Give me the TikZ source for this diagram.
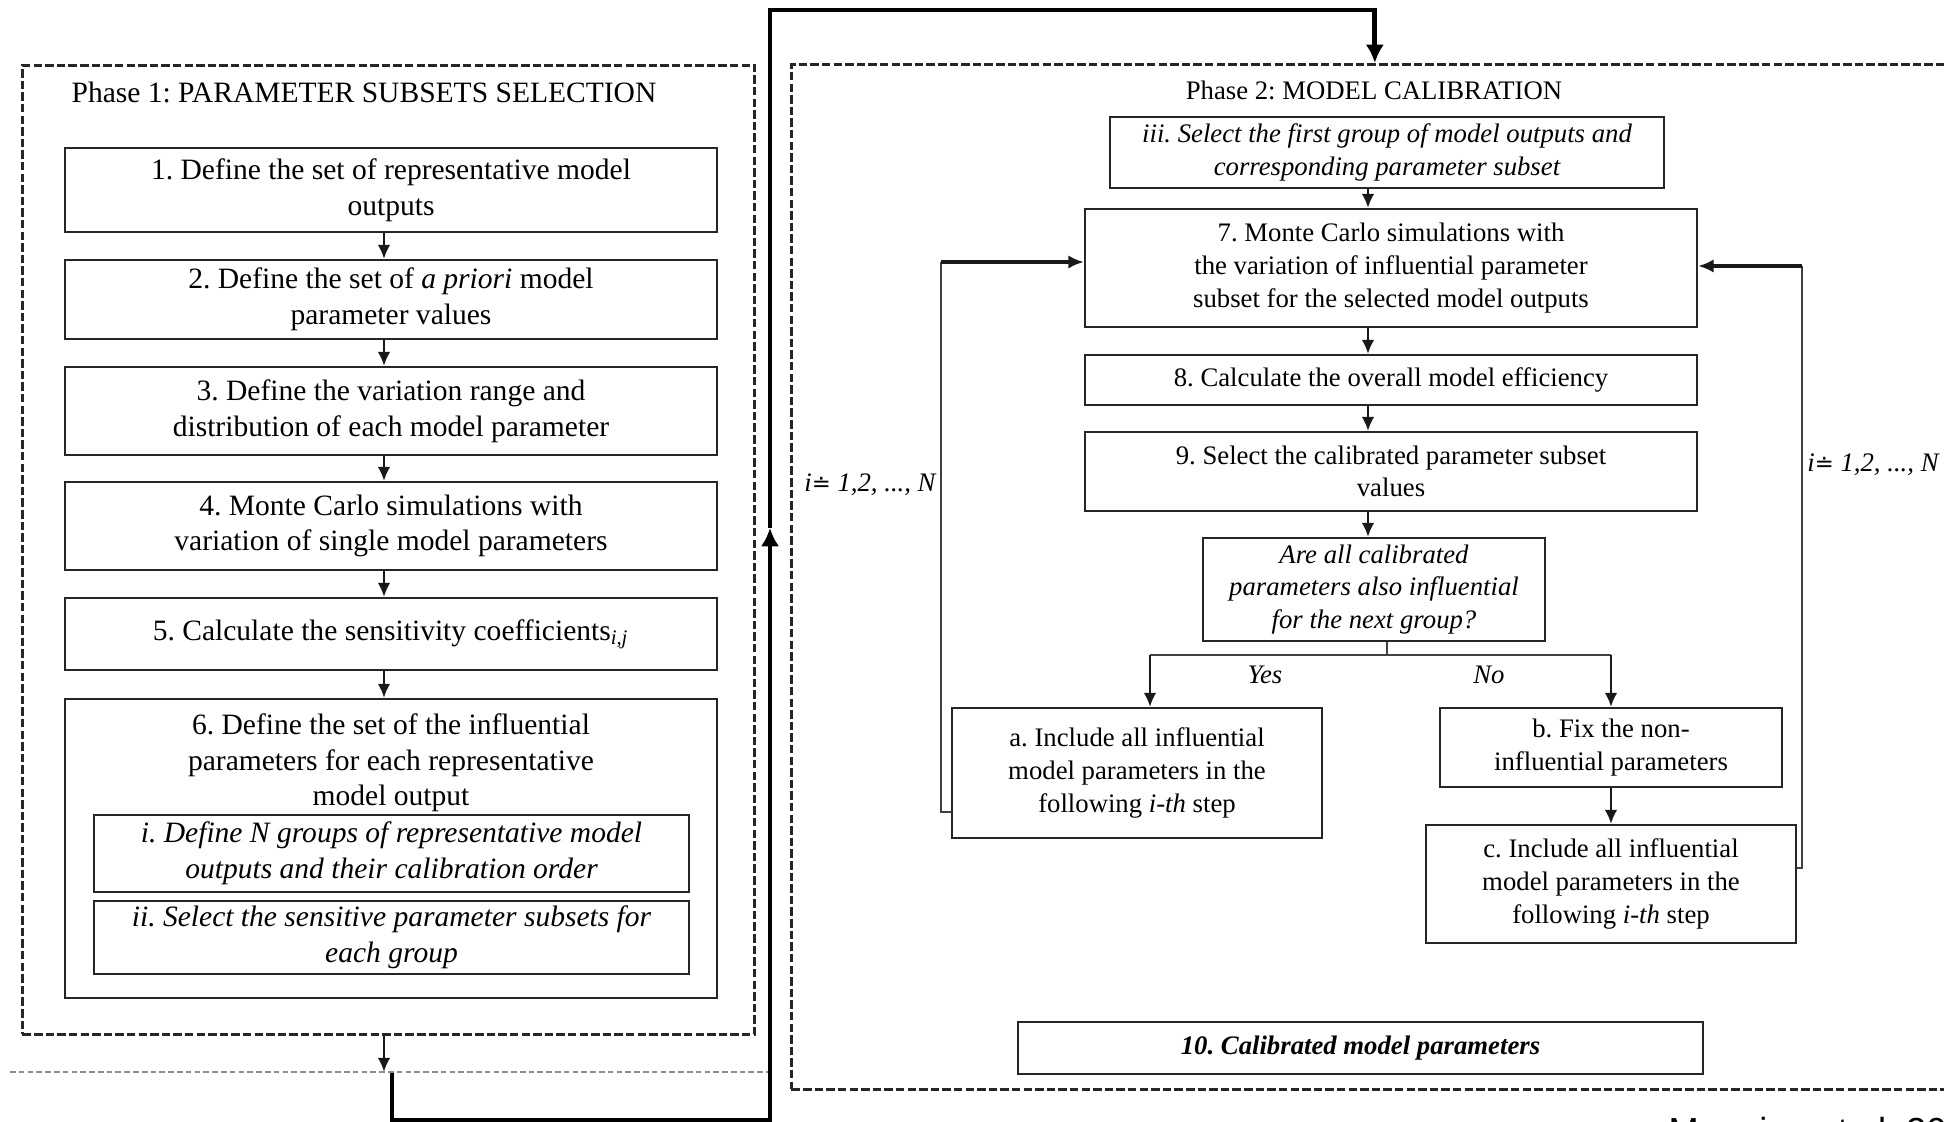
\documentclass[tikz,border=0pt]{standalone}
\usepackage{fontspec}
\setmainfont{Liberation Serif}
\newfontfamily\citefont{Liberation Sans}
\newfontfamily\symbolfont[Scale=0.85]{DejaVu Sans}
\usetikzlibrary{arrows.meta,calc}
\frenchspacing
% equals sign with a dot above it
\newcommand\dotequals{{\symbolfont ≐}}

\begin{document}
\begin{tikzpicture}[x=0.01cm,y=-0.01cm,
  box/.style={draw=black!85,line width=0.55pt,inner sep=0pt,align=center},
  onefont/.style={font=\fontsize{8.4}{10.1}\selectfont},
  oneit/.style={font=\fontsize{8.4}{10.1}\selectfont\itshape},
  twofont/.style={font=\fontsize{7.6}{9.3}\selectfont},
  twoit/.style={font=\fontsize{7.6}{9.3}\selectfont\itshape},
  phasebox/.style={draw=black!85,line width=0.85pt,dash pattern=on 2.4pt off 0.9pt,inner sep=0pt},
  separator/.style={draw=black!45,line width=0.4pt,dash pattern=on 1.6pt off 0.9pt},
  stepflow/.style={-{Latex[length=4pt,width=3.6pt]},line width=0.8pt,black!90},
  thinrule/.style={line width=0.45pt,black!75},
  loopflow/.style={-{Latex[length=4.4pt,width=3.8pt]},line width=0.95pt,black!90},
  mainflow/.style={-{Latex[length=5.2pt,width=5.2pt]},line width=1.35pt,black},
]
\useasboundingbox (0,0) rectangle (1944,1122);
\clip (0,0) rectangle (1944,1122);
\fill[white] (0,0) rectangle (1944,1122);

% ---------- Phase 1 ----------
\node[phasebox,anchor=north west,minimum width=7.32cm,minimum height=9.68cm] (p1) at (21,64) {};
\node[onefont] (t1) at (364,92) {Phase 1: PARAMETER SUBSETS SELECTION};

\node[box,onefont,minimum width=6.52cm,minimum height=0.84cm] (s1) at (391,190)
  {1. Define the set of representative model\\outputs};
\node[box,onefont,minimum width=6.52cm,minimum height=0.79cm] (s2) at (391,299.5)
  {2. Define the set of \textit{a priori} model\\parameter values};
\node[box,onefont,minimum width=6.52cm,minimum height=0.88cm] (s3) at (391,411)
  {3. Define the variation range and\\distribution of each model parameter};
\node[box,onefont,minimum width=6.52cm,minimum height=0.88cm] (s4) at (391,526)
  {4. Monte Carlo simulations with\\variation of single model parameters};
\node[box,onefont,minimum width=6.52cm,minimum height=0.72cm] (s5) at (391,634)
  {5. Calculate the sensitivity coefficients\textsubscript{\itshape i,j}};
\node[box,minimum width=6.52cm,minimum height=2.99cm] (s6) at (391,848.5) {};
\node[onefont,align=center,inner sep=0pt] (s6t) at (391,763)
  {6. Define the set of the influential\\parameters for each representative\\model output};
\node[box,oneit,minimum width=5.95cm,minimum height=0.77cm] (si) at (391.5,853.5)
  {i. Define N groups of representative model\\outputs and their calibration order};
\node[box,oneit,minimum width=5.95cm,minimum height=0.73cm] (sii) at (391.5,937.5)
  {ii. Select the sensitive parameter subsets for\\each group};

\coordinate (ax1) at (384,0);
\foreach \a/\b in {s1/s2,s2/s3,s3/s4,s4/s5,s5/s6}
  \draw[stepflow] (\a.south -| ax1) -- (\b.north -| ax1);

% ---------- Phase 2 ----------
\node[phasebox,anchor=north west,minimum width=11.66cm,minimum height=10.24cm] (p2) at (790,63) {};
\node[twofont] (t2) at (1374,90) {Phase 2: MODEL CALIBRATION};

\node[box,twoit,minimum width=5.54cm,minimum height=0.71cm] (c3) at (1387,152.5)
  {iii. Select the first group of model outputs and\\corresponding parameter subset};
\node[box,twofont,minimum width=6.12cm,minimum height=1.18cm] (c7) at (1391,268)
  {7. Monte Carlo simulations with\\the variation of influential parameter\\subset for the selected model outputs};
\node[box,twofont,minimum width=6.12cm,minimum height=0.50cm] (c8) at (1391,380)
  {8. Calculate the overall model efficiency};
\node[box,twofont,minimum width=6.12cm,minimum height=0.79cm] (c9) at (1391,471.5)
  {9. Select the calibrated parameter subset\\values};
\node[box,twoit,minimum width=3.42cm,minimum height=1.03cm] (cq) at (1374,589.5)
  {Are all calibrated\\parameters also influential\\for the next group?};
\node[box,twofont,minimum width=3.70cm,minimum height=1.30cm] (ca) at (1137,773)
  {a. Include all influential\\model parameters in the\\following \textit{i-th} step};
\node[box,twofont,minimum width=3.42cm,minimum height=0.79cm] (cb) at (1611,747.5)
  {b. Fix the non-\\influential parameters};
\node[box,twofont,minimum width=3.70cm,minimum height=1.18cm] (cc) at (1611,884)
  {c. Include all influential\\model parameters in the\\following \textit{i-th} step};
\node[box,minimum width=6.85cm,minimum height=0.52cm,font=\fontsize{7.6}{9.3}\selectfont\bfseries\itshape] (c10) at (1360.5,1048)
  {10. Calibrated model parameters};

\coordinate (ax2) at (1368,0);
\foreach \a/\b in {c3/c7,c7/c8,c8/c9,c9/cq}
  \draw[stepflow] (\a.south -| ax2) -- (\b.north -| ax2);

% decision branches
\coordinate (fork) at (1387,655);
\coordinate (yes) at (1150,655);
\coordinate (no) at (1611,655);
\draw[thinrule] (cq.south -| fork) -- (fork);
\draw[thinrule] (yes) -- (no);
\draw[stepflow] (yes) -- (ca.north -| yes);
\draw[stepflow] (no) -- (cb.north);
\draw[stepflow] (cb.south) -- (cc.north);
\node[twoit] (lyes) at (1265,675) {Yes};
\node[twoit] (lno) at (1489,675) {No};

% iteration loops back to step 7
\coordinate (lbend) at (941,812);
\coordinate (ltop) at (941,262);
\draw[thinrule] (ca.west |- lbend) -- (lbend) -- (ltop);
\draw[loopflow] (ltop) -- (c7.west |- ltop);
\coordinate (rbend) at (1802,868);
\coordinate (rtop) at (1802,266);
\draw[thinrule] (cc.east |- rbend) -- (rbend) -- (rtop);
\draw[loopflow] (rtop) -- (c7.east |- rtop);
\node[twoit] (nl) at (870,485) {i\dotequals{} 1,2, ..., N};
\node[twoit] (nr) at (1873,465) {i\dotequals{} 1,2, ..., N};

% ---------- link from phase 1 to phase 2 ----------
\coordinate (sepL) at (10,1072);
\coordinate (sepR) at (768,1072);
\draw[separator] (sepL) -- (sepR);
\coordinate (drop) at (384,1072);
\draw[stepflow] (p1.south -| ax1) -- (drop);
\coordinate (lowstart) at (392,1073);
\coordinate (lowturn) at (770,1120);
\coordinate (riser) at (770,528);
\coordinate (topturn) at (770,10);
\draw[mainflow] (lowstart) |- (lowturn) -- (riser);
\draw[mainflow] (riser) -- (topturn) -| (p2.north);

% source note
\node[anchor=base west,inner sep=0pt,font=\citefont\fontsize{10.3}{12}\selectfont] (cite) at (1668,1144) {Mannina et al. 2011};
\end{tikzpicture}
\end{document}
